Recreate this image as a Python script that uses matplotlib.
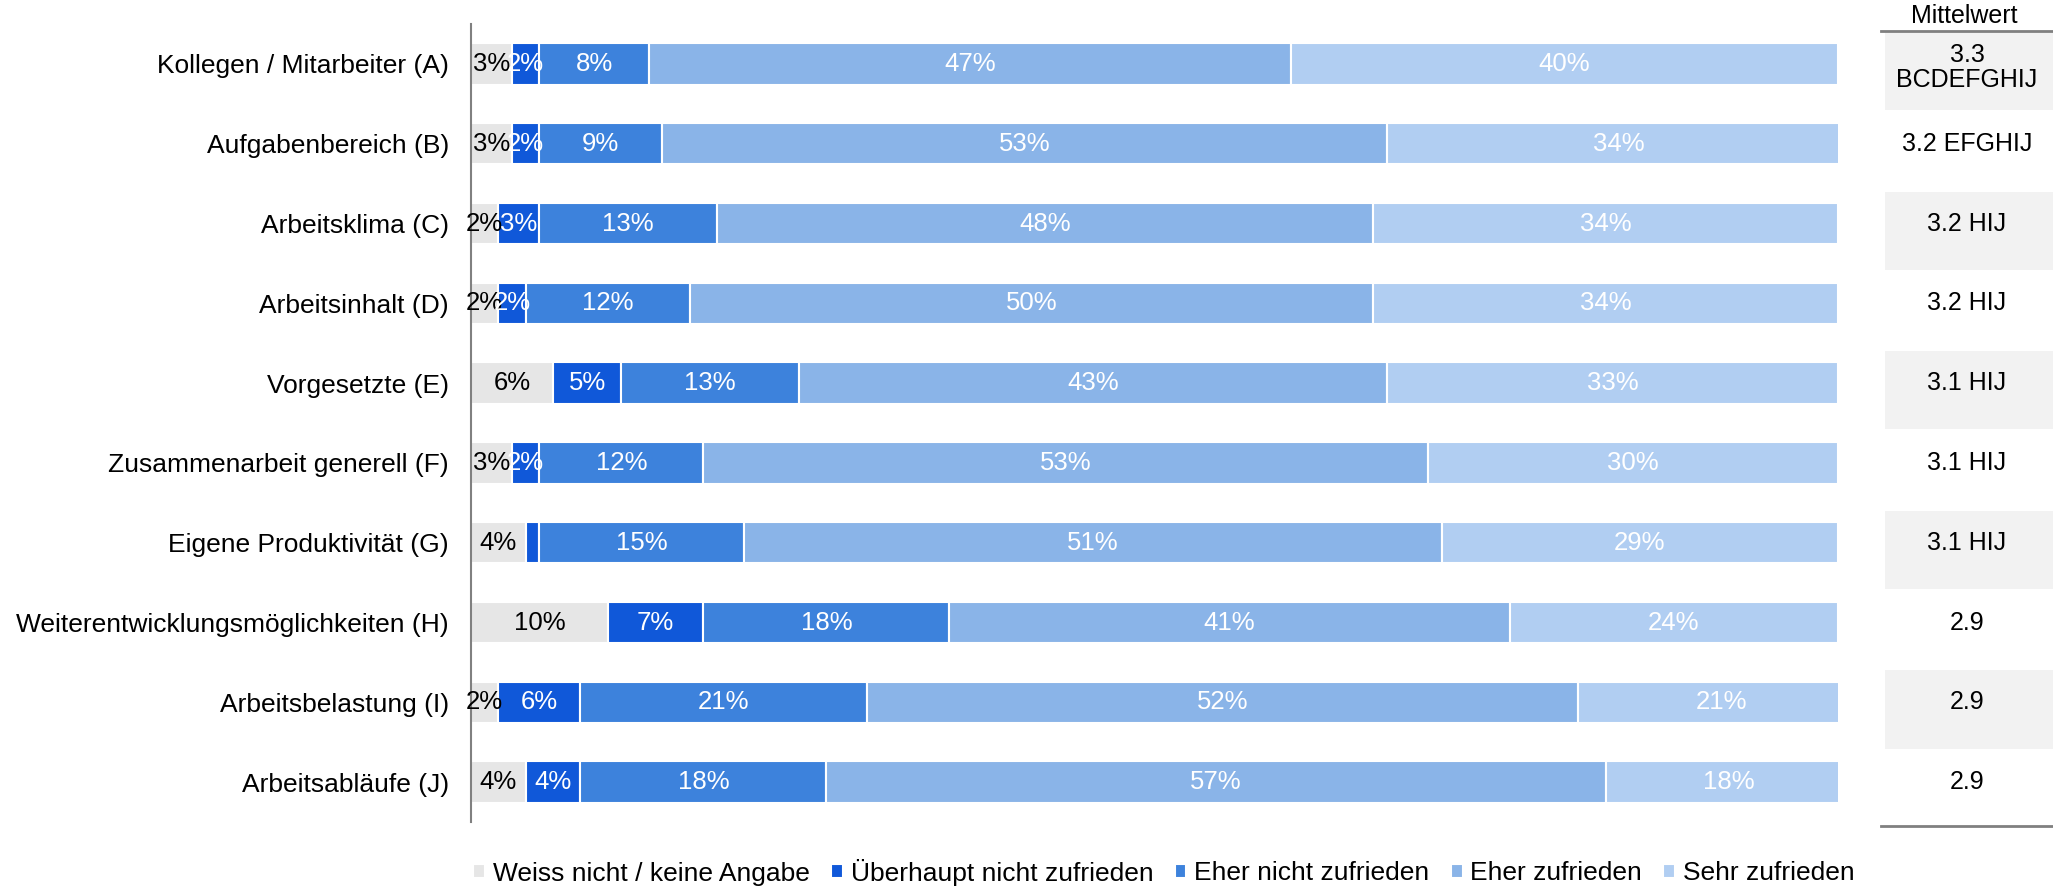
import matplotlib
matplotlib.use("Agg")
import matplotlib.pyplot as plt
from matplotlib.patches import Rectangle
from matplotlib.transforms import blended_transform_factory

plt.rcParams['font.family'] = ['Liberation Sans', 'DejaVu Sans']

categories = [
    "Kollegen / Mitarbeiter (A)",
    "Aufgabenbereich (B)",
    "Arbeitsklima (C)",
    "Arbeitsinhalt (D)",
    "Vorgesetzte (E)",
    "Zusammenarbeit generell (F)",
    "Eigene Produktivität (G)",
    "Weiterentwicklungsmöglichkeiten (H)",
    "Arbeitsbelastung (I)",
    "Arbeitsabläufe (J)",
]
series_names = [
    "Weiss nicht / keine Angabe",
    "Überhaupt nicht zufrieden",
    "Eher nicht zufrieden",
    "Eher zufrieden",
    "Sehr zufrieden",
]
weiss_nicht = [3, 3, 2, 2, 6, 3, 4, 10, 2, 4]
ueberhaupt_nicht = [2, 2, 3, 2, 5, 2, 1, 7, 6, 4]
eher_nicht = [8, 9, 13, 12, 13, 12, 15, 18, 21, 18]
eher_zufrieden = [47, 53, 48, 50, 43, 53, 51, 41, 52, 57]
sehr_zufrieden = [40, 34, 34, 34, 33, 30, 29, 24, 21, 18]
show_label = [
    [True] * 10,
    [True, True, True, True, True, True, False, True, True, True],
    [True] * 10,
    [True] * 10,
    [True] * 10,
]
mittelwert = [
    "3.3\nBCDEFGHIJ", "3.2 EFGHIJ", "3.2 HIJ", "3.2 HIJ", "3.1 HIJ",
    "3.1 HIJ", "3.1 HIJ", "2.9", "2.9", "2.9",
]

colors = ["#e6e6e6", "#1058d9", "#3d82dc", "#8ab4e8", "#b1cef2"]
text_colors = ["black", "white", "white", "white", "white"]

W, H = 2053, 889
fig = plt.figure(figsize=(W / 100, H / 100), dpi=100)
ax = fig.add_axes([471 / W, 67 / H, 1367 / W, 798 / H])

series = [weiss_nicht, ueberhaupt_nicht, eher_nicht, eher_zufrieden, sehr_zufrieden]
y = list(range(len(categories)))
left = [0.0] * len(categories)
fs = 19
fs_val = 18.5
fs_col = 18
for k, vals in enumerate(series):
    ax.barh(y, vals, left=left, height=0.52, color=colors[k],
            edgecolor="white", linewidth=1.5, label=series_names[k], zorder=2)
    for i, v in enumerate(vals):
        if show_label[k][i]:
            ax.text(left[i] + v / 2, i, f"{v}%", ha="center", va="center",
                    color=text_colors[k], fontsize=fs_val, zorder=3)
    left = [l + v for l, v in zip(left, vals)]

ax.set_ylim(len(categories) - 0.5, -0.5)
ax.set_xlim(0, 100)
ax.set_yticks(y)
ax.set_yticklabels(categories, fontsize=fs)
ax.tick_params(axis="y", length=0, pad=16)
ax.set_xticks([])
for s in ["top", "right", "bottom"]:
    ax.spines[s].set_visible(False)
ax.spines["left"].set_color("#808080")
ax.spines["left"].set_linewidth(1.5)

# Mittelwert column at the right
tr = blended_transform_factory(fig.transFigure, ax.transData)
x0 = 1885 / W
xc = 1967 / W
for i, txt in enumerate(mittelwert):
    if i % 2 == 0:
        ax.add_patch(Rectangle((x0, i - 0.4), 1 - x0, 0.98, transform=tr,
                               facecolor="#f2f2f2", edgecolor="none",
                               clip_on=False, zorder=0))
    yy = i + 0.05 if i == 0 else i
    ax.text(xc, yy, txt, transform=tr, ha="center", va="center", fontsize=fs_col,
            linespacing=1.05, clip_on=False, zorder=3)

fig.text(1964 / W, 1 - 16 / H, "Mittelwert", ha="center", va="center", fontsize=fs_col)
fig.add_artist(plt.Line2D([1881 / W, 1], [1 - 31 / H] * 2, transform=fig.transFigure,
                          color="#808080", linewidth=2))
fig.add_artist(plt.Line2D([1881 / W, 1], [1 - 826 / H] * 2, transform=fig.transFigure,
                          color="#808080", linewidth=2))

handles, labels = ax.get_legend_handles_labels()
fig.legend(handles, labels, loc="center", bbox_to_anchor=(1164 / W, 1 - 872 / H),
           ncol=5, frameon=False, fontsize=fs, handlelength=0.45, handleheight=0.45,
           handletextpad=0.3, columnspacing=0.8)

fig.savefig("out.png", dpi=100)
